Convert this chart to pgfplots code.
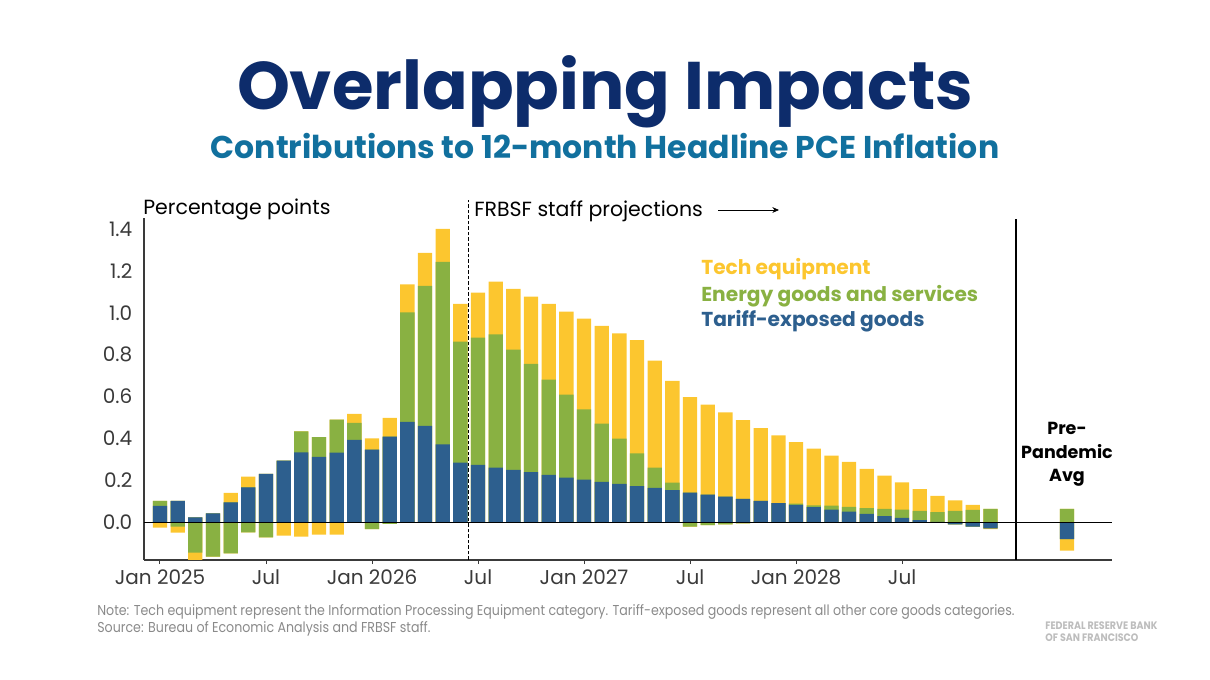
\documentclass[border=0pt]{standalone}
\usepackage{pgfplots}
\pgfplotsset{compat=1.18}
\usepackage{pgfplotstable}
\usetikzlibrary{arrows.meta}
\usepackage{fontspec}
\setmainfont{Poppins}
\newfontfamily\notefont[FakeStretch=0.88]{Poppins}
\definecolor{tblue}{HTML}{2D5F8E}
\definecolor{tgreen}{HTML}{89B142}
\definecolor{tyellow}{HTML}{FCC62F}
\definecolor{navy}{HTML}{0D2C6B}
\definecolor{subblue}{HTML}{11709E}
\definecolor{axgray}{HTML}{3A3A3A}
\definecolor{notegray}{HTML}{8A8A8A}
\definecolor{logogray}{HTML}{BDBDBD}

% i = month index (0 = Jan 2025); t = tariff-exposed goods, e = energy, y = tech equipment
\pgfplotstableread{
i t e y
0 0.078 0.024 -0.025
1 0.102 -0.021 -0.028
2 0.024 -0.145 -0.050
3 0.043 -0.164 0.000
4 0.095 -0.148 0.045
5 0.167 -0.048 0.051
6 0.231 -0.072 0.000
7 0.294 0.000 -0.064
8 0.334 0.100 -0.068
9 0.312 0.095 -0.059
10 0.333 0.157 -0.059
11 0.393 0.081 0.043
12 0.347 -0.033 0.054
13 0.409 -0.008 0.089
14 0.479 0.523 0.134
15 0.460 0.668 0.158
16 0.372 0.871 0.157
17 0.285 0.577 0.180
18 0.274 0.607 0.215
19 0.261 0.636 0.252
20 0.250 0.574 0.290
21 0.239 0.517 0.321
22 0.226 0.455 0.361
23 0.213 0.396 0.397
24 0.204 0.335 0.433
25 0.193 0.278 0.466
26 0.183 0.216 0.503
27 0.173 0.156 0.540
28 0.164 0.097 0.511
29 0.153 0.036 0.486
30 0.142 -0.021 0.456
31 0.132 -0.014 0.430
32 0.122 -0.010 0.403
33 0.112 -0.005 0.376
34 0.102 0.000 0.347
35 0.092 0.000 0.323
36 0.083 0.006 0.294
37 0.072 0.009 0.271
38 0.060 0.020 0.238
39 0.051 0.022 0.215
40 0.040 0.028 0.187
41 0.030 0.034 0.159
42 0.021 0.039 0.131
43 0.010 0.044 0.104
44 0.002 0.047 0.077
45 -0.010 0.054 0.051
46 -0.021 0.059 0.024
47 -0.029 0.064 -0.004
51.33 -0.080 0.064 -0.055
}\data

\begin{document}
\begin{tikzpicture}[x=0.6pt,y=0.6pt]
\path[use as bounding box] (0,0) rectangle (1210,680);

% titles
\node[anchor=base, text=navy, font=\bfseries\fontsize{40.4}{40.4}\selectfont] at (605,570) {Overlapping Impacts};
\node[anchor=base, text=subblue, font=\bfseries\fontsize{18.9}{18.9}\selectfont] at (605,521) {Contributions to 12-month Headline PCE Inflation};

\begin{axis}[
  at={(86.4pt,72pt)}, anchor=south west,
  scale only axis, width=580.8pt, height=205.2pt,
  xmin=-0.905, xmax=53.88, ymin=-0.18, ymax=1.4525,
  axis x line*=bottom, axis y line*=left,
  axis line style={-, color=axgray, line width=0.8pt},
  xtick={0,6,12,18,24,30,36,42},
  xticklabels={Jan 2025, Jul, Jan 2026, Jul, Jan 2027, Jul, Jan 2028, Jul},
  ytick={0,0.2,...,1.41},
  yticklabel style={/pgf/number format/.cd, fixed, fixed zerofill, precision=1},
  /pgf/number format/assume math mode=true,
  tick label style={font=\fontsize{12}{12}\selectfont, text=axgray},
  ytick style={draw=none},
  xtick style={color=axgray, line width=0.6pt},
  tick align=outside, major tick length=2.5pt,
  yticklabel shift=1pt,
  xticklabel shift=0pt,
  clip mode=individual,
]
% positive stacks (drawn tallest first)
\addplot[ybar, bar width=0.81, fill=tyellow, draw=none] table[x=i, y expr={max(\thisrow{t},0)+max(\thisrow{e},0)+max(\thisrow{y},0)}] {\data};
\addplot[ybar, bar width=0.81, fill=tgreen, draw=none] table[x=i, y expr={max(\thisrow{t},0)+max(\thisrow{e},0)}] {\data};
\addplot[ybar, bar width=0.81, fill=tblue, draw=none] table[x=i, y expr={max(\thisrow{t},0)}] {\data};
% negative stacks
\addplot[ybar, bar width=0.81, fill=tyellow, draw=none] table[x=i, y expr={min(\thisrow{t},0)+min(\thisrow{e},0)+min(\thisrow{y},0)}] {\data};
\addplot[ybar, bar width=0.81, fill=tgreen, draw=none] table[x=i, y expr={min(\thisrow{t},0)+min(\thisrow{e},0)}] {\data};
\addplot[ybar, bar width=0.81, fill=tblue, draw=none] table[x=i, y expr={min(\thisrow{t},0)}] {\data};
% zero line
\addplot[black, line width=0.75pt, forget plot] coordinates {(-0.905,0) (53.88,0)};
% separators
\draw[black, line width=0.8pt, dash pattern=on 2.2pt off 1.1pt] (axis cs:17.45,-0.18) -- (axis cs:17.45,1.538);
\draw[black, line width=1.5pt] (axis cs:48.45,-0.18) -- (axis cs:48.45,1.448);
\end{axis}

% annotations
\node[anchor=base west, font=\fontsize{12.3}{12.3}\selectfont, inner sep=0pt] at (143,465) {Percentage points};
\node[anchor=base west, font=\fontsize{12.3}{12.3}\selectfont, inner sep=0pt] at (474,463) {FRBSF staff projections};
\draw[-{Stealth[length=4pt,width=3.5pt]}, line width=0.5pt] (718,470) -- (779,470);

% legend
\node[anchor=base west, inner sep=0pt, text=tyellow, font=\bfseries\fontsize{12.1}{12.1}\selectfont] at (701,405) {Tech equipment};
\node[anchor=base west, inner sep=0pt, text=tgreen, font=\bfseries\fontsize{12.1}{12.1}\selectfont] at (701,378) {Energy goods and services};
\node[anchor=base west, inner sep=0pt, text=tblue, font=\bfseries\fontsize{12.1}{12.1}\selectfont] at (701,353) {Tariff-exposed goods};

% pre-pandemic label
\node[anchor=base, inner sep=0pt, font=\bfseries\fontsize{10.5}{10.5}\selectfont] at (1067,245) {Pre-};
\node[anchor=base, inner sep=0pt, font=\bfseries\fontsize{10.5}{10.5}\selectfont] at (1067,221) {Pandemic};
\node[anchor=base, inner sep=0pt, font=\bfseries\fontsize{10.5}{10.5}\selectfont] at (1067,198) {Avg};

% notes
\node[anchor=base west, inner sep=0pt, text=notegray, font=\notefont\fontsize{8.6}{8.6}\selectfont] at (97,64) {Note: Tech equipment represent the Information Processing Equipment category. Tariff-exposed goods represent all other core goods categories.};
\node[anchor=base west, inner sep=0pt, text=notegray, font=\notefont\fontsize{8.6}{8.6}\selectfont] at (97,47) {Source: Bureau of Economic Analysis and FRBSF staff.};
\node[anchor=base west, inner sep=0pt, text=logogray, font=\notefont\bfseries\fontsize{6.5}{6.5}\selectfont] at (1045,50) {FEDERAL RESERVE BANK};
\node[anchor=base west, inner sep=0pt, text=logogray, font=\notefont\bfseries\fontsize{6.5}{6.5}\selectfont] at (1045,38) {OF SAN FRANCISCO};
\end{tikzpicture}
\end{document}
